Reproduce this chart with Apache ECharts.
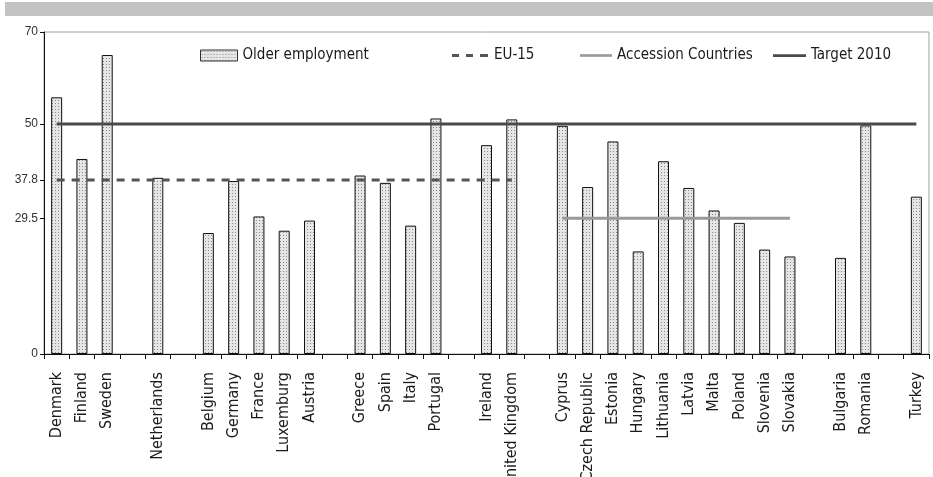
<!DOCTYPE html>
<html>
<head>
<meta charset="utf-8">
<script src="https://cdn.jsdelivr.net/npm/echarts@6/dist/echarts.min.js"></script>
<style>
	html, body { margin: 0; padding: 0; background: #fff; }
	#chart { width: 933px; height: 477px; }
</style>
</head>
<body>
<div id="chart"></div>
<script>
// empty strings are the spacer slots between country groups
const countries = [
	'Denmark', 'Finland', 'Sweden', '',
	'Netherlands', '',
	'Belgium', 'Germany', 'France', 'Luxemburg', 'Austria', '',
	'Greece', 'Spain', 'Italy', 'Portugal', '',
	'Ireland', 'United Kingdom', '',
	'Cyprus', 'Czech Republic', 'Estonia', 'Hungary', 'Lithuania', 'Latvia', 'Malta', 'Poland', 'Slovenia', 'Slovakia', '',
	'Bulgaria', 'Romania', '',
	'Turkey'
]
const olderEmployment = [
	55.8, 42.4, 65.0, null,
	38.3, null,
	26.3, 37.6, 29.9, 26.8, 29.0, null,
	38.8, 37.2, 27.9, 51.2, null,
	45.4, 51.0, null,
	49.6, 36.3, 46.2, 22.3, 41.9, 36.1, 31.2, 28.5, 22.7, 21.2, null,
	20.9, 49.7, null,
	34.2
]
const yTicks = [0, 29.5, 37.8, 50, 70]

// reference levels and the span of countries they cover
const eu15 = 37.8
const eu15Span = ['Denmark', 'United Kingdom']
const accession = 29.5
const accessionSpan = ['Cyprus', 'Slovakia']
const target2010 = 50
const targetSpan = ['Denmark', 'Turkey']

function spanLine(value, span) {
	const a = countries.indexOf(span[0])
	const b = countries.indexOf(span[1])
	return countries.map((c, i) => (i >= a && i <= b ? value : null))
}

// dotted fill like the printed bars
function dotPattern() {
	const cv = document.createElement('canvas')
	cv.width = 3
	cv.height = 3
	const ctx = cv.getContext('2d')
	ctx.fillStyle = '#e6e6e6'
	ctx.fillRect(0, 0, 3, 3)
	ctx.fillStyle = '#8a8a8a'
	ctx.fillRect(1, 1, 1, 1)
	return cv
}

const narrow = '"Liberation Sans Narrow", "DejaVu Sans Condensed", sans-serif'
const legendText = { fontFamily: narrow, fontSize: 15, color: '#1a1a1a' }
const solidIcon = 'path://M0,0h36v3h-36z'
const dashIcon = 'path://M0,0h7v3h-7z M14,0h7v3h-7z M28,0h8v3h-8z'

const chart = echarts.init(document.getElementById('chart'))
const option = {
	animation: false,
	graphic: [
		{
			type: 'rect',
			shape: { x: 5, y: 2, width: 928, height: 14 },
			style: { fill: '#c3c3c3' },
			silent: true
		}
	],
	grid: {
		left: 44,
		right: 4,
		top: 32,
		bottom: 123,
		outerBoundsMode: 'none',
		show: true,
		borderColor: '#a0a0a0',
		borderWidth: 1
	},
	legend: [
		{
			data: [{ name: 'Older employment', icon: 'rect' }],
			left: 200,
			top: 48,
			padding: 0,
			itemWidth: 37,
			itemHeight: 11,
			itemStyle: { borderColor: '#333', borderWidth: 1 },
			textStyle: legendText
		},
		{
			data: [{ name: 'EU-15', icon: dashIcon }],
			left: 452,
			top: 48,
			padding: 0,
			itemWidth: 38,
			itemHeight: 3,
			textStyle: legendText
		},
		{
			data: [{ name: 'Accession Countries', icon: solidIcon }],
			left: 580,
			top: 48,
			padding: 0,
			itemWidth: 32,
			itemHeight: 3,
			textStyle: legendText
		},
		{
			data: [{ name: 'Target 2010', icon: solidIcon }],
			left: 773,
			top: 48,
			padding: 0,
			itemWidth: 33,
			itemHeight: 3,
			textStyle: legendText
		}
	],
	xAxis: {
		type: 'category',
		data: countries,
		boundaryGap: true,
		axisLine: {
			lineStyle: { color: '#111', width: 1 }
		},
		axisTick: {
			show: true,
			length: 5,
			interval: 0,
			lineStyle: { color: '#111' }
		},
		axisLabel: {
			interval: 0,
			rotate: 90,
			margin: 18,
			color: '#1a1a1a',
			fontFamily: narrow,
			fontSize: 16
		},
		splitLine: { show: false }
	},
	yAxis: {
		type: 'value',
		min: 0,
		max: 70,
		axisLine: {
			show: true,
			lineStyle: { color: '#111', width: 1 }
		},
		axisTick: {
			show: true,
			length: 4,
			customValues: yTicks,
			lineStyle: { color: '#111' }
		},
		axisLabel: {
			customValues: yTicks,
			margin: 6,
			color: '#333',
			fontFamily: 'Liberation Sans, Arial, sans-serif',
			fontSize: 12
		},
		splitLine: { show: false }
	},
	series: [
		{
			name: 'Older employment',
			type: 'bar',
			barWidth: 11,
			itemStyle: {
				color: { image: dotPattern(), repeat: 'repeat' },
				borderColor: '#111',
				borderWidth: 1
			},
			data: olderEmployment
		},
		{
			name: 'EU-15',
			type: 'line',
			symbol: 'none',
			z: 5,
			lineStyle: { color: '#555', width: 3, type: [8, 7] },
			itemStyle: { color: '#555' },
			data: spanLine(eu15, eu15Span)
		},
		{
			name: 'Accession Countries',
			type: 'line',
			symbol: 'none',
			z: 5,
			lineStyle: { color: '#999', width: 3 },
			itemStyle: { color: '#999' },
			data: spanLine(accession, accessionSpan)
		},
		{
			name: 'Target 2010',
			type: 'line',
			symbol: 'none',
			z: 5,
			lineStyle: { color: '#4a4a4a', width: 3 },
			itemStyle: { color: '#4a4a4a' },
			data: spanLine(target2010, targetSpan)
		}
	]
}
chart.setOption(option)
</script>
</body>
</html>
